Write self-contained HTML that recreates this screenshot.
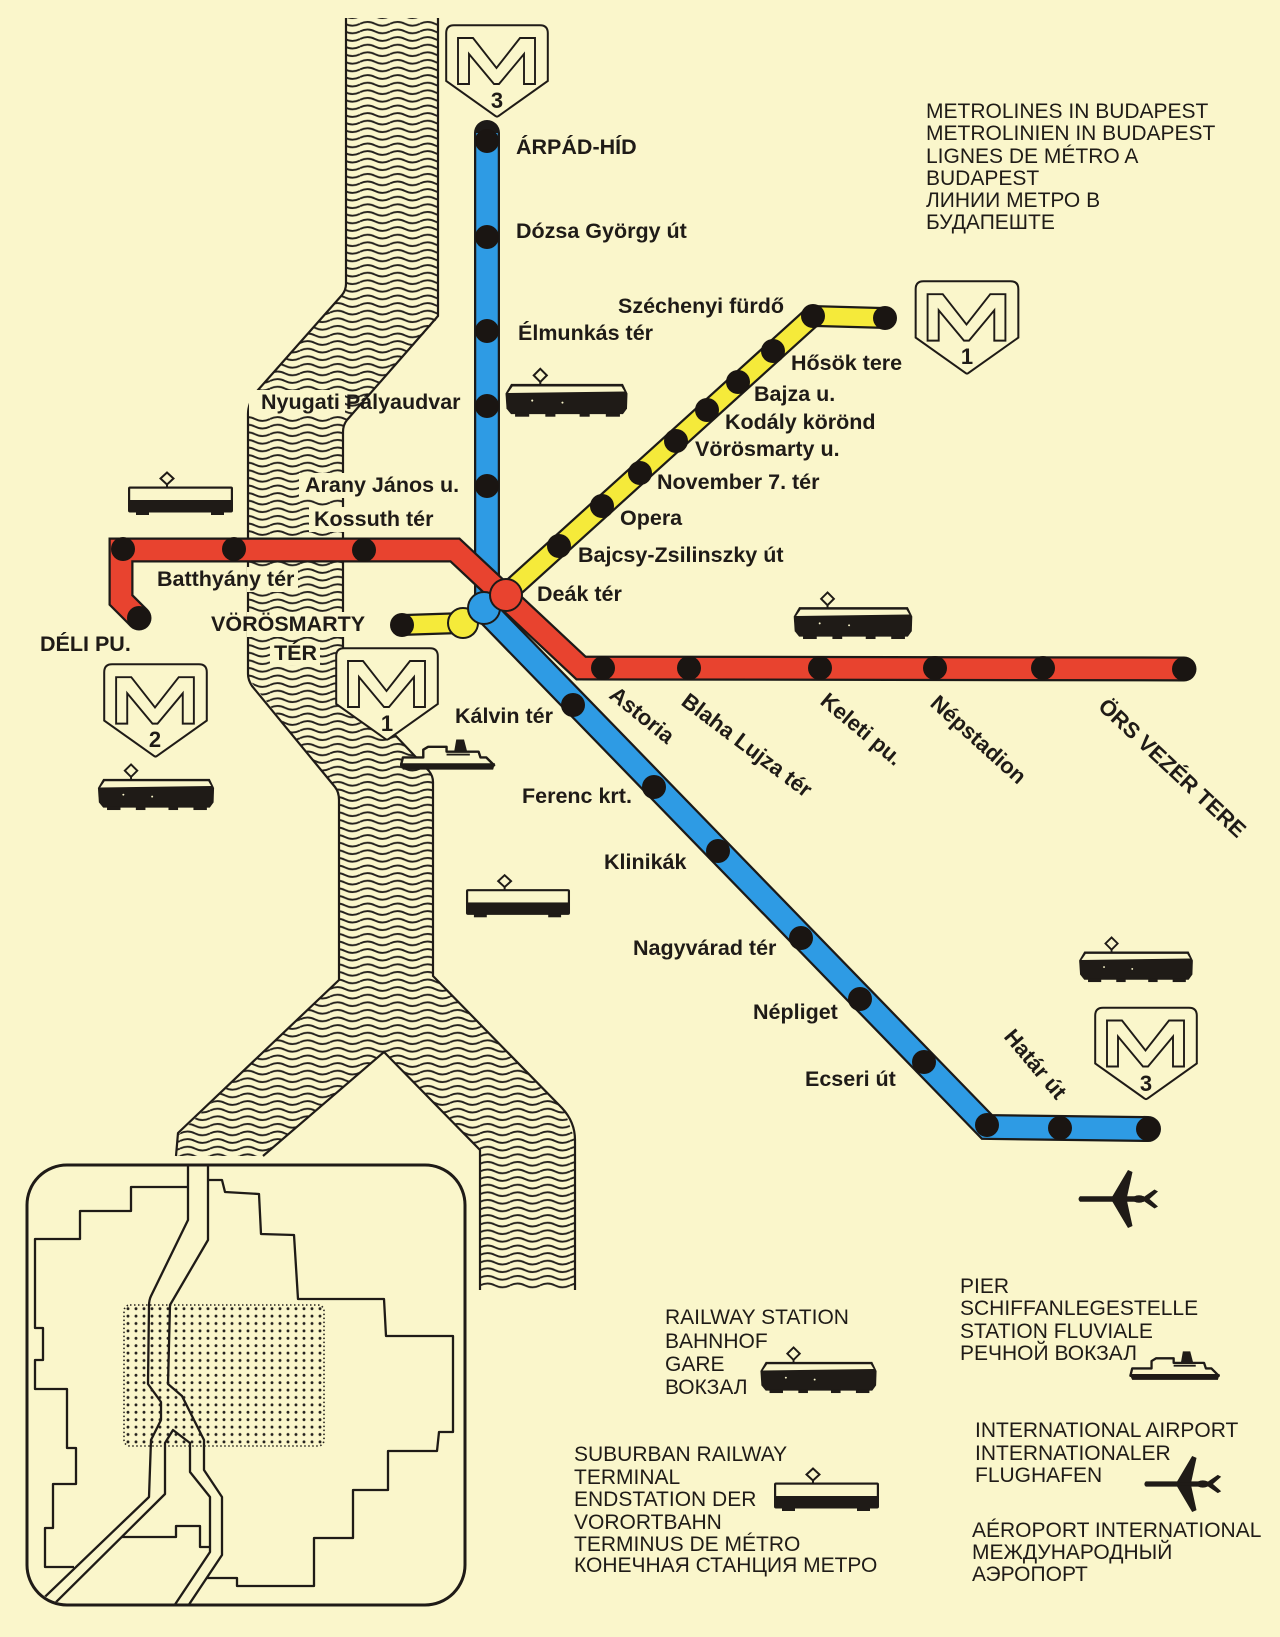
<!DOCTYPE html>
<html><head><meta charset="utf-8"><style>
html,body{margin:0;padding:0;background:#faf6cb;}
svg{display:block;}
.l{font-family:"Liberation Sans",Arial,sans-serif;font-weight:bold;font-size:21.5px;fill:#1f1b17;}
.r{font-family:"Liberation Sans",Arial,sans-serif;font-weight:bold;font-size:22px;fill:#1f1b17;}
.h{font-family:"Liberation Sans",Arial,sans-serif;font-size:21px;fill:#1f1b17;}
.g{font-family:"Liberation Sans",Arial,sans-serif;font-size:21px;fill:#1f1b17;}
.n{font-family:"Liberation Sans",Arial,sans-serif;font-weight:bold;font-size:22px;fill:#1f1b17;text-anchor:middle;}
</style></head><body>
<svg width="1280" height="1637" viewBox="0 0 1280 1637" xmlns="http://www.w3.org/2000/svg">
<defs>
<pattern id="wave" patternUnits="userSpaceOnUse" x="0" y="20" width="30" height="7.6">
<path d="M0,3.8 C5,1.3 10,1.3 15,3.8 C20,6.3 25,6.3 30,3.8" stroke="#24211d" stroke-width="1.9" fill="none"/>
</pattern>
<pattern id="dots" patternUnits="userSpaceOnUse" x="124" y="1305" width="8" height="7.4">
<circle cx="4" cy="3.7" r="1.45" fill="#24211d"/>
</pattern>
<clipPath id="boxclip"><rect x="28.5" y="1166.5" width="435" height="437" rx="39"/></clipPath>
<symbol id="rail" viewBox="0 0 122 50">
<line x1="35" y1="14" x2="35" y2="17" stroke="#1f1b17" stroke-width="2"/>
<polygon points="35,1.5 41.5,8 35,14.5 28.5,8" fill="#faf6cb" stroke="#1f1b17" stroke-width="2"/>
<path d="M6,16.5 L117,16.5 L121.5,26 L121,41 L117,46.5 L6,46.5 L1.5,41 L0.5,26 Z" fill="#1f1b17"/>
<path d="M7.5,19 L115.5,19 L118.5,24 L3,25.5 Z" fill="#faf6cb"/>
<rect x="10" y="45" width="14" height="4" fill="#1f1b17"/>
<rect x="40" y="45" width="10" height="4" fill="#1f1b17"/>
<rect x="74" y="45" width="10" height="4" fill="#1f1b17"/>
<rect x="100" y="45" width="14" height="4" fill="#1f1b17"/>
<circle cx="27" cy="33" r="1" fill="#faf6cb"/>
<circle cx="57" cy="35" r="1" fill="#faf6cb"/>
</symbol>
<symbol id="sub" viewBox="0 0 107 45">
<line x1="40" y1="13" x2="40" y2="16" stroke="#1f1b17" stroke-width="2"/>
<polygon points="40,1.5 46.5,7.5 40,13.5 33.5,7.5" fill="#faf6cb" stroke="#1f1b17" stroke-width="2"/>
<rect x="1" y="15.5" width="105" height="26" rx="2" fill="#1f1b17"/>
<rect x="3.2" y="17.7" width="100.6" height="11.3" fill="#faf6cb"/>
<rect x="9" y="40" width="13" height="4" fill="#1f1b17"/>
<rect x="84" y="40" width="13" height="4" fill="#1f1b17"/>
</symbol>
<symbol id="ship" viewBox="0 0 100 38">
<path d="M3,20 L24,20 L24,12 L29,9 L48,9 L48,14 L81,14 L83,20 L89,20 L97,28 L1,28 Z" fill="#faf6cb" stroke="#1f1b17" stroke-width="2.5" stroke-linejoin="round"/>
<path d="M0,26 L98,26 L96,32.5 L3,32.5 Z" fill="#1f1b17"/>
<path d="M56,13 L58,1.5 L66,1.5 L69,13 Z" fill="#1f1b17"/>
<path d="M48,17 L72,17" stroke="#1f1b17" stroke-width="2"/>
</symbol>
<symbol id="plane" viewBox="0 0 82 60">
<path d="M3,27.3 L67,27.3 L67,32.7 L3,32.7 Q0,30 3,27.3 Z" fill="#1f1b17"/>
<path d="M35,28 L51,1 L55.5,3 L50,28 Z" fill="#1f1b17"/>
<path d="M35,32 L51,59 L55.5,57 L50,32 Z" fill="#1f1b17"/>
<ellipse cx="62" cy="30" rx="6.5" ry="3.8" fill="#1f1b17"/>
<path d="M66,28.5 L77.5,20.5 L81,22.5 L72.5,30 L81,37.5 L77.5,39.5 L66,31.5 Z" fill="#1f1b17"/>
</symbol>
<symbol id="msign" viewBox="0 0 104 94">
<path d="M9,1.2 L95,1.2 Q102.8,1.2 102.8,9 L102.8,57 L53.5,92 Q52,93.2 50.5,92 L1.2,57 L1.2,9 Q1.2,1.2 9,1.2 Z" fill="#faf6cb" stroke="#1f1b17" stroke-width="2"/>
<path d="M13,14 L28,14 L51.5,44 L75,14 L90,14 L90,60 L79,60 L79,30 L54,60 L49,60 L24,30 L24,60 L13,60 Z" fill="none" stroke="#1f1b17" stroke-width="1.9" stroke-linejoin="miter"/>
</symbol>
</defs>

<rect width="1280" height="1637" fill="#faf6cb"/>

<!-- RIVER -->
<path d="M346,18 L438,18 L438,318 L347,420 L343,428 L343,680 L433,776 L433,976 L565,1112 L575,1140 L575,1290 L480,1290 L480,1150 L384,1052 L263,1156 L176,1156 L178,1135 L339,980 L339,793 L248,678 L248,410 L258,390 L346,290 Z" fill="url(#wave)"/>
<g fill="none" stroke="#1f1b17" stroke-width="2.2" stroke-linejoin="round">
<path d="M346,18 L346,284 Q346,290 342,295 L258,390 Q248,402 248,414 L248,674 Q248,680 252,686 L335,787 Q339,792 339,800 L339,980 L178,1133 L176,1156"/>
<path d="M438,18 L438,316 L347,420 Q343,425 343,432 L343,680 L429,771 Q433,776 433,782 L433,976 L562,1108 Q575,1122 575,1140 L575,1290"/>
<path d="M263,1156 L384,1052 L480,1150 L480,1290"/>
</g>

<!-- label covers over river -->
<g fill="#faf6cb">
<rect x="249" y="390" width="96" height="26"/>
<rect x="299" y="473" width="46" height="25"/>
<rect x="309" y="507" width="36" height="25"/>
<rect x="247" y="567" width="51" height="25"/>
<rect x="247" y="612" width="98" height="25"/>
<rect x="270" y="642" width="50" height="23"/>
</g>

<!-- INSET MAP -->
<rect x="124" y="1305" width="200" height="141" rx="6" fill="url(#dots)" stroke="#24211d" stroke-width="1.6" stroke-dasharray="1.5 2.5"/>
<g clip-path="url(#boxclip)" fill="none" stroke="#1f1b17" stroke-width="2.3" stroke-linejoin="round">
<path d="M188,1160 L188,1220 L151,1296 Q149,1300 149,1306 L148,1384 L161,1402 L161,1420 L151,1440 L149,1497 L26,1615"/>
<path d="M208,1160 L208,1240 L170,1305 L168,1384 L182,1396 L204,1440 L204,1470 L222,1497 L222,1555 L182,1615"/>
<path d="M43,1615 L165,1494 L165,1443 L173,1430 L190,1443 L190,1472 L210,1497 L210,1552 L168,1615"/>
<path d="M188,1187 L131,1187 L131,1211 L80,1211 L80,1239 L35,1239 L35,1328 L43,1328 L43,1360 L35,1360 L35,1389 L67,1389 L67,1448 L76,1448 L76,1484 L53,1484 L53,1528 L45,1528 L45,1567 L74,1567"/>
<path d="M122,1537 L176,1537 L176,1526 L200,1526 L200,1547 L210,1547"/>
<path d="M208,1180 L222,1180 L225,1192 L259,1194 L261,1234 L294,1235 L298,1299 L384,1299 L386,1336 L453,1336 L453,1432 L439,1432 L437,1451 L388,1451 L388,1490 L353,1490 L353,1538 L314,1538 L314,1586 L237,1586 L237,1578 L207,1578"/>
</g>
<rect x="27" y="1165" width="438" height="440" rx="40" fill="none" stroke="#1f1b17" stroke-width="3"/>

<!-- METRO LINES -->
<g fill="none" stroke-linejoin="miter">
<path d="M487,133 L487,612 L987,1127 L1148,1129" stroke="#1c1a18" stroke-width="26" stroke-linecap="round"/>
<path d="M487,133 L487,612 L987,1127 L1148,1129" stroke="#2e9be4" stroke-width="21.5"/>
<path d="M139,618 L121,600 L121,550 L455,550 L581,668 L1184,669" stroke="#1c1a18" stroke-width="25" stroke-linecap="round"/>
<path d="M139,618 L121,600 L121,550 L455,550 L581,668 L1184,669" stroke="#e8432f" stroke-width="20.5"/>
<path d="M402,625 L463,623 M506,594 L813,316 L885,318" stroke="#1c1a18" stroke-width="22" stroke-linecap="round"/>
<path d="M402,625 L463,623 M506,594 L813,316 L885,318" stroke="#f5ea3a" stroke-width="17.5"/>
</g>

<!-- STATIONS -->
<g fill="#1a1512">
<circle cx="487" cy="141" r="12"/><circle cx="487" cy="237" r="12"/><circle cx="487" cy="331" r="12"/><circle cx="487" cy="406" r="12"/><circle cx="487" cy="486" r="12"/>
<circle cx="573" cy="705" r="12"/><circle cx="654" cy="787" r="12"/><circle cx="718" cy="851" r="12"/><circle cx="801" cy="938" r="12"/><circle cx="860" cy="999" r="12"/><circle cx="924" cy="1062" r="12"/><circle cx="987" cy="1125" r="12"/><circle cx="1060" cy="1128" r="12"/><circle cx="1148" cy="1129" r="12"/>
<circle cx="139" cy="618" r="12"/><circle cx="123" cy="549" r="12"/><circle cx="234" cy="549" r="12"/><circle cx="364" cy="550" r="12"/>
<circle cx="603" cy="668" r="12"/><circle cx="689" cy="668" r="12"/><circle cx="820" cy="668" r="12"/><circle cx="935" cy="668" r="12"/><circle cx="1043" cy="668" r="12"/><circle cx="1184" cy="669" r="12"/>
<circle cx="402" cy="625" r="12"/><circle cx="559" cy="546" r="12"/><circle cx="602" cy="506" r="12"/><circle cx="640" cy="473" r="12"/><circle cx="676" cy="441" r="12"/><circle cx="707" cy="410" r="12"/><circle cx="738" cy="382" r="12"/><circle cx="773" cy="351" r="12"/><circle cx="813" cy="316" r="12"/><circle cx="885" cy="318" r="12"/>
</g>
<!-- Deák interchange -->
<circle cx="463" cy="623" r="15" fill="#f5ea3a" stroke="#1c1a18" stroke-width="2"/>
<circle cx="484" cy="608" r="16" fill="#2e9be4" stroke="#1c1a18" stroke-width="2"/>
<circle cx="506" cy="595" r="16" fill="#e8432f" stroke="#1c1a18" stroke-width="2"/>

<!-- M SIGNS -->
<use href="#msign" x="445" y="24" width="104" height="94"/>
<text class="n" x="497" y="108">3</text>
<use href="#msign" x="914" y="280" width="106" height="95"/>
<text class="n" x="967" y="364">1</text>
<use href="#msign" x="103" y="663" width="105" height="95"/>
<text class="n" x="155" y="747">2</text>
<use href="#msign" x="335" y="647" width="104" height="94"/>
<text class="n" x="387" y="731">1</text>
<use href="#msign" x="1094" y="1005" width="104" height="97"/>
<text class="n" x="1146" y="1091">3</text>

<!-- TRAINS / ICONS -->
<use href="#rail" x="505" y="367" width="123" height="51" preserveAspectRatio="none"/>
<use href="#rail" x="792" y="591" width="122" height="49" preserveAspectRatio="none"/>
<use href="#rail" x="96" y="763" width="120" height="48" preserveAspectRatio="none"/>
<use href="#rail" x="1075" y="936" width="122" height="47" preserveAspectRatio="none"/>
<use href="#rail" x="757" y="1346" width="123" height="48" preserveAspectRatio="none"/>
<use href="#sub" x="127" y="471" width="107" height="45" preserveAspectRatio="none"/>
<use href="#sub" x="465" y="873" width="106" height="46" preserveAspectRatio="none"/>
<use href="#sub" x="773" y="1467" width="107" height="45" preserveAspectRatio="none"/>
<use href="#ship" x="400" y="738" width="97" height="37" preserveAspectRatio="none"/>
<use href="#ship" x="1127" y="1350" width="97" height="35" preserveAspectRatio="none"/>
<use href="#plane" x="1077" y="1169" width="82" height="60" preserveAspectRatio="none"/>
<use href="#plane" x="1142" y="1455" width="81" height="58" preserveAspectRatio="none"/>

<!-- STATION LABELS -->
<text class="l" x="516" y="154">ÁRPÁD-HÍD</text>
<text class="l" x="516" y="238">Dózsa György út</text>
<text class="l" x="518" y="340">Élmunkás tér</text>
<text class="l" x="618" y="313">Széchenyi fürdő</text>
<text class="l" x="261" y="409">Nyugati Pályaudvar</text>
<text class="l" x="305" y="492">Arany János u.</text>
<text class="l" x="314" y="526">Kossuth tér</text>
<text class="l" x="157" y="586">Batthyány tér</text>
<text class="l" x="211" y="631">VÖRÖSMARTY</text>
<text class="l" x="274" y="660">TÉR</text>
<text class="l" x="40" y="651">DÉLI PU.</text>
<text class="l" x="455" y="723">Kálvin tér</text>
<text class="l" x="522" y="803">Ferenc krt.</text>
<text class="l" x="604" y="869">Klinikák</text>
<text class="l" x="633" y="955">Nagyvárad tér</text>
<text class="l" x="753" y="1019">Népliget</text>
<text class="l" x="805" y="1086">Ecseri út</text>
<text class="l" x="537" y="601">Deák tér</text>
<text class="l" x="578" y="562">Bajcsy-Zsilinszky út</text>
<text class="l" x="620" y="525">Opera</text>
<text class="l" x="657" y="489">November 7. tér</text>
<text class="l" x="695" y="456">Vörösmarty u.</text>
<text class="l" x="725" y="429">Kodály körönd</text>
<text class="l" x="754" y="401">Bajza u.</text>
<text class="l" x="791" y="370">Hősök tere</text>

<text class="r" transform="translate(608,697) rotate(39)">Astoria</text>
<text class="r" transform="translate(680,704) rotate(37)">Blaha Lujza tér</text>
<text class="r" transform="translate(819,703) rotate(40)">Keleti pu.</text>
<text class="r" transform="translate(929,705) rotate(42)">Népstadion</text>
<text class="r" transform="translate(1097,708) rotate(43)">ÖRS VEZÉR TERE</text>
<text class="r" transform="translate(1003,1037) rotate(50)">Határ út</text>

<!-- HEADER -->
<g class="h">
<text x="926" y="118">METROLINES IN BUDAPEST</text>
<text x="926" y="140">METROLINIEN IN BUDAPEST</text>
<text x="926" y="163">LIGNES DE MÉTRO A</text>
<text x="926" y="185">BUDAPEST</text>
<text x="926" y="207">ЛИНИИ МЕТРО В</text>
<text x="926" y="229">БУДАПЕШТЕ</text>
</g>

<!-- LEGEND -->
<g class="g">
<text x="665" y="1324">RAILWAY STATION</text>
<text x="665" y="1348">BAHNHOF</text>
<text x="665" y="1371">GARE</text>
<text x="665" y="1394">ВОКЗАЛ</text>

<text x="960" y="1293">PIER</text>
<text x="960" y="1315">SCHIFFANLEGESTELLE</text>
<text x="960" y="1338">STATION FLUVIALE</text>
<text x="960" y="1360">РЕЧНОЙ ВОКЗАЛ</text>

<text x="975" y="1437">INTERNATIONAL AIRPORT</text>
<text x="975" y="1460">INTERNATIONALER</text>
<text x="975" y="1482">FLUGHAFEN</text>

<text x="972" y="1537">AÉROPORT INTERNATIONAL</text>
<text x="972" y="1559">МЕЖДУНАРОДНЫЙ</text>
<text x="972" y="1581">АЭРОПОРТ</text>

<text x="574" y="1461">SUBURBAN RAILWAY</text>
<text x="574" y="1484">TERMINAL</text>
<text x="574" y="1506">ENDSTATION DER</text>
<text x="574" y="1529">VORORTBAHN</text>
<text x="574" y="1551">TERMINUS DE MÉTRO</text>
<text x="574" y="1572">КОНЕЧНАЯ СТАНЦИЯ МЕТРО</text>
</g>
</svg>
</body></html>
